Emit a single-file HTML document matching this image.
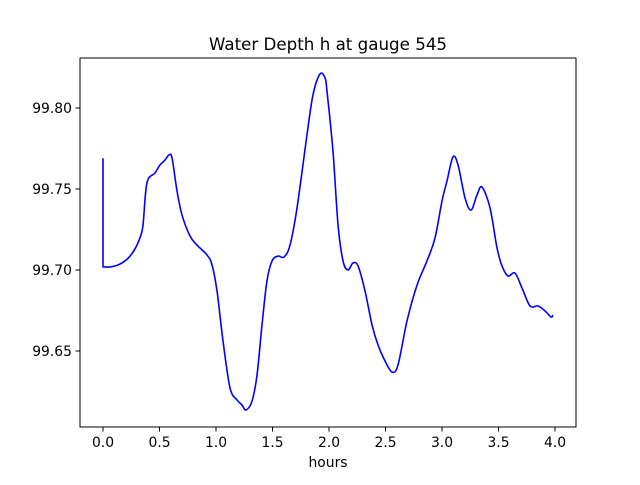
<!DOCTYPE html>
<html><head><meta charset="utf-8"><style>
body{margin:0;background:#fff;font-family:"Liberation Sans","DejaVu Sans",sans-serif;}
svg text{font-family:"DejaVu Sans","Liberation Sans",sans-serif;font-size:13.9px;fill:#000}
</style></head><body>
<svg id="chart" width="640" height="480" xmlns="http://www.w3.org/2000/svg">
<rect width="640" height="480" fill="#fff"/>
<text x="328" y="50" text-anchor="middle" style="font-size:16.7px">Water Depth h at gauge 545</text>
<g id="ticks"></g>
<path id="line" fill="none" stroke="#0000ff" stroke-width="1.6" stroke-linejoin="round"/>
<rect x="80" y="58" width="496" height="369" fill="none" stroke="#000" stroke-width="1"/>
<text x="328" y="467" text-anchor="middle">hours</text>
</svg>
<script>
const hours=[0,0,0.062,0.133,0.195,0.239,0.283,0.327,0.354,0.389,0.460,0.504,0.549,0.584,0.611,0.655,0.699,0.770,0.832,0.920,0.965,1.009,1.062,1.124,1.186,1.230,1.265,1.319,1.363,1.407,1.451,1.496,1.549,1.602,1.655,1.717,1.805,1.858,1.920,1.965,1.982,2.035,2.080,2.124,2.168,2.212,2.257,2.319,2.381,2.434,2.496,2.558,2.611,2.690,2.779,2.867,2.938,3.000,3.044,3.097,3.142,3.204,3.257,3.310,3.354,3.425,3.487,3.531,3.584,3.646,3.708,3.779,3.850,3.912,3.965,3.982];
const depth=[99.769,99.7019,99.7019,99.7031,99.7056,99.7086,99.713,99.7198,99.7278,99.7538,99.7599,99.7648,99.7679,99.771,99.7691,99.7488,99.734,99.721,99.7154,99.7093,99.7031,99.687,99.6562,99.6272,99.6198,99.6167,99.6136,99.6191,99.6352,99.666,99.6932,99.7056,99.7086,99.708,99.7154,99.7383,99.7833,99.808,99.821,99.8185,99.8105,99.7735,99.7278,99.7056,99.70,99.7043,99.7025,99.687,99.666,99.6537,99.6438,99.637,99.6414,99.6685,99.6907,99.7056,99.7198,99.7426,99.7549,99.7698,99.7648,99.7444,99.737,99.7463,99.7512,99.7383,99.7136,99.7025,99.6963,99.6981,99.6889,99.6778,99.6778,99.6747,99.671,99.6722];
const xTicks=[0,0.5,1,1.5,2,2.5,3,3.5,4];
const xTickLabels=["0.0","0.5","1.0","1.5","2.0","2.5","3.0","3.5","4.0"];
const yTicks=[99.65,99.70,99.75,99.80];
const yTickLabels=["99.65","99.70","99.75","99.80"];
const X=h=>103+h*113;
const Y=v=>270-(v-99.70)*1620;
const NS="http://www.w3.org/2000/svg";
const g=document.getElementById('ticks');
function mk(t,a){const e=document.createElementNS(NS,t);for(const k in a)e.setAttribute(k,a[k]);return e;}
xTicks.forEach((t,i)=>{
  const l=mk('line',{x1:X(t),x2:X(t),y1:427,y2:431.5,stroke:'#000'});
  
  
  g.appendChild(l);
  const tx=mk('text',{x:X(t),y:447,'text-anchor':'middle'});
  
  
  tx.textContent=xTickLabels[i];g.appendChild(tx);
});
yTicks.forEach((t,i)=>{
  const l=mk('line',{x1:75.5,x2:80,y1:Y(t),y2:Y(t),stroke:'#000'});
  
  
  g.appendChild(l);
  const tx=mk('text',{x:72,y:Y(t)+5,'text-anchor':'end'});
  
  
  tx.textContent=yTickLabels[i];g.appendChild(tx);
});
const P=hours.map((h,i)=>[X(h),Y(depth[i])]);
let d='M'+P[0][0]+','+P[0][1]+' L'+P[1][0]+','+P[1][1];
for(let i=1;i<P.length-1;i++){
  const p0=P[Math.max(1,i-1)],p1=P[i],p2=P[i+1],p3=P[Math.min(P.length-1,i+2)];
  const c1=[p1[0]+(p2[0]-p0[0])/6,p1[1]+(p2[1]-p0[1])/6];
  const c2=[p2[0]-(p3[0]-p1[0])/6,p2[1]-(p3[1]-p1[1])/6];
  d+=' C'+c1+' '+c2+' '+p2;
}
document.getElementById('line').setAttribute('d',d);
</script>
</body></html>
